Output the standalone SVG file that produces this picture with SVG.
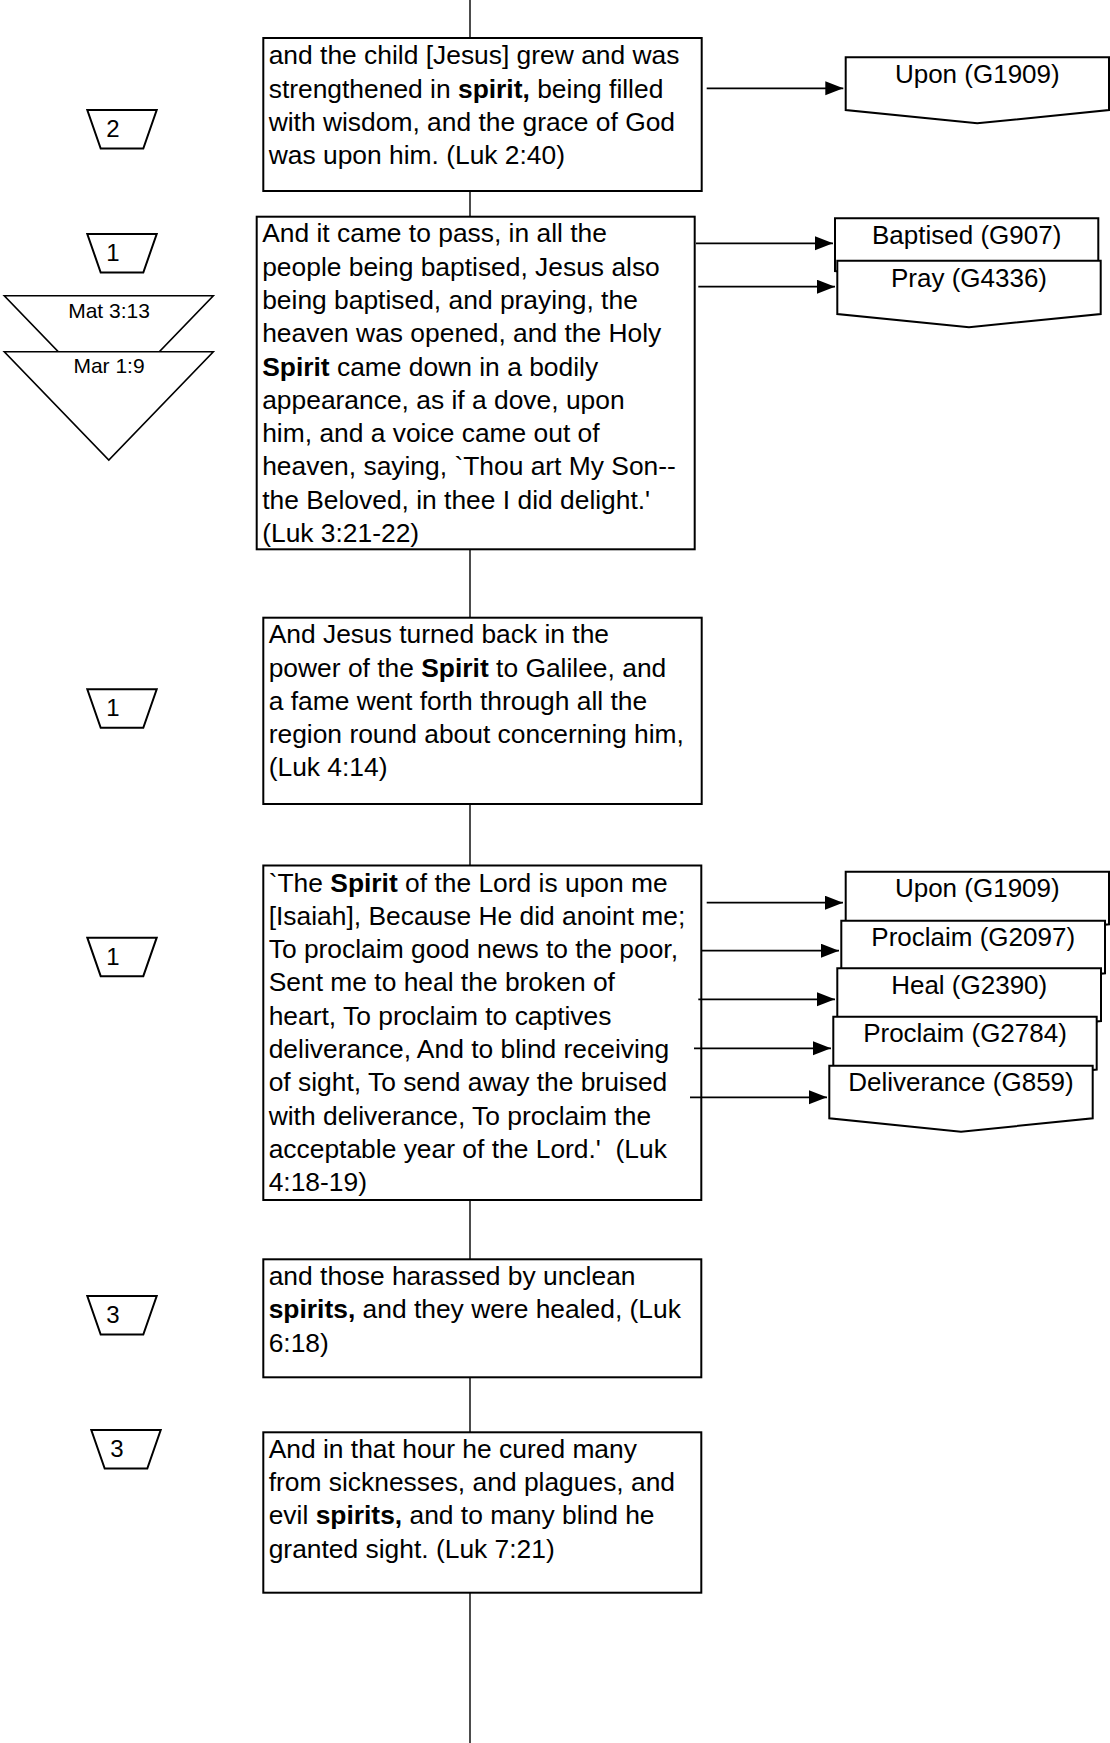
<svg xmlns="http://www.w3.org/2000/svg" width="1110" height="1743" viewBox="0 0 1110 1743">
<style>
.box{fill:#fff;stroke:#000;stroke-width:2}
.pent{fill:#fff;stroke:#000;stroke-width:2}
.badge{fill:#fff;stroke:#000;stroke-width:2}
.tri{fill:#fff;stroke:#000;stroke-width:1.6}
.t{font-family:"Liberation Sans",Arial,sans-serif;font-size:26.4px;fill:#000}
.lbl{font-family:"Liberation Sans",Arial,sans-serif;font-size:26px;fill:#000;text-anchor:middle}
.bt{font-family:"Liberation Sans",Arial,sans-serif;font-size:24px;fill:#000;text-anchor:middle}
.st{font-family:"Liberation Sans",Arial,sans-serif;font-size:21px;fill:#000;text-anchor:middle}
.b{font-weight:bold}
.flow{stroke:#000;stroke-width:1.4;fill:none}
.arr{stroke:#000;stroke-width:1.8;fill:none;marker-end:url(#ah)}
</style>
<defs>
<marker id="ah" markerUnits="userSpaceOnUse" markerWidth="19" markerHeight="15" refX="18" refY="7" orient="auto">
<path d="M0,0 L18,7 L0,14 z" fill="#000"/>
</marker>
</defs>
<rect width="1110" height="1743" fill="#fff"/>

<g id="spine">
<line class="flow" x1="470" y1="0" x2="470" y2="38"/>
<line class="flow" x1="470" y1="191" x2="470" y2="216.7"/>
<line class="flow" x1="470" y1="549.3" x2="470" y2="617.7"/>
<line class="flow" x1="470" y1="804" x2="470" y2="865.5"/>
<line class="flow" x1="470" y1="1200" x2="470" y2="1259.3"/>
<line class="flow" x1="470" y1="1377.3" x2="470" y2="1432.3"/>
<line class="flow" x1="470" y1="1592.7" x2="470" y2="1743"/>
</g>

<g id="node-luk2-40">
<rect class="box" x="263.3" y="38" width="438.4" height="153"/>
<text class="t"><tspan x="268.7" y="64.3">and the child [Jesus] grew and was</tspan><tspan x="268.7" y="97.6">strengthened in <tspan class="b">spirit,</tspan> being filled</tspan><tspan x="268.7" y="130.9">with wisdom, and the grace of God</tspan><tspan x="268.7" y="164.2">was upon him. (Luk 2:40)</tspan></text>
</g>

<g id="node-luk3-21">
<rect class="box" x="256.7" y="216.7" width="438" height="332.6"/>
<text class="t"><tspan x="262.2" y="242.3">And it came to pass, in all the</tspan><tspan x="262.2" y="275.6">people being baptised, Jesus also</tspan><tspan x="262.2" y="308.9">being baptised, and praying, the</tspan><tspan x="262.2" y="342.2">heaven was opened, and the Holy</tspan><tspan x="262.2" y="375.5"><tspan class="b">Spirit</tspan> came down in a bodily</tspan><tspan x="262.2" y="408.8">appearance, as if a dove, upon</tspan><tspan x="262.2" y="442.1">him, and a voice came out of</tspan><tspan x="262.2" y="475.4">heaven, saying, `Thou art My Son--</tspan><tspan x="262.2" y="508.7">the Beloved, in thee I did delight.'</tspan><tspan x="262.2" y="542">(Luk 3:21-22)</tspan></text>
</g>

<g id="node-luk4-14">
<rect class="box" x="263.3" y="617.7" width="438.4" height="186.3"/>
<text class="t"><tspan x="268.7" y="643.2">And Jesus turned back in the</tspan><tspan x="268.7" y="676.5">power of the <tspan class="b">Spirit</tspan> to Galilee, and</tspan><tspan x="268.7" y="709.8">a fame went forth through all the</tspan><tspan x="268.7" y="743.1">region round about concerning him,</tspan><tspan x="268.7" y="776.4">(Luk 4:14)</tspan></text>
</g>

<g id="node-luk4-18">
<rect class="box" x="263.3" y="865.5" width="438" height="334.5"/>
<text class="t"><tspan x="268.7" y="891.5">`The <tspan class="b">Spirit</tspan> of the Lord is upon me</tspan><tspan x="268.7" y="924.8">[Isaiah], Because He did anoint me;</tspan><tspan x="268.7" y="958.1">To proclaim good news to the poor,</tspan><tspan x="268.7" y="991.4">Sent me to heal the broken of</tspan><tspan x="268.7" y="1024.7">heart, To proclaim to captives</tspan><tspan x="268.7" y="1058">deliverance, And to blind receiving</tspan><tspan x="268.7" y="1091.3">of sight, To send away the bruised</tspan><tspan x="268.7" y="1124.6">with deliverance, To proclaim the</tspan><tspan x="268.7" y="1157.9">acceptable year of the Lord.'&#160; (Luk</tspan><tspan x="268.7" y="1191.2">4:18-19)</tspan></text>
</g>

<g id="node-luk6-18">
<rect class="box" x="263.3" y="1259.3" width="438" height="118"/>
<text class="t"><tspan x="268.7" y="1285">and those harassed by unclean</tspan><tspan x="268.7" y="1318.3"><tspan class="b">spirits,</tspan> and they were healed, (Luk</tspan><tspan x="268.7" y="1351.6">6:18)</tspan></text>
</g>

<g id="node-luk7-21">
<rect class="box" x="263.3" y="1432.3" width="438" height="160.4"/>
<text class="t"><tspan x="268.7" y="1457.8">And in that hour he cured many</tspan><tspan x="268.7" y="1491.1">from sicknesses, and plagues, and</tspan><tspan x="268.7" y="1524.4">evil <tspan class="b">spirits,</tspan> and to many blind he</tspan><tspan x="268.7" y="1557.7">granted sight. (Luk 7:21)</tspan></text>
</g>

<g id="badge-2">
<polygon class="badge" points="87.3,110 156.7,110 143.3,148.5 100.7,148.5"/>
<text class="bt" x="113" y="136.5">2</text>
</g>
<g id="badge-1a">
<polygon class="badge" points="87.3,234 156.7,234 143.3,272.5 100.7,272.5"/>
<text class="bt" x="113" y="261">1</text>
</g>
<g id="ref-mat3-13">
<polygon class="tri" points="4.3,295.7 213.3,295.7 108.8,404"/>
<text class="st" x="109" y="317.7">Mat 3:13</text>
</g>
<g id="ref-mar1-9">
<polygon class="tri" points="4.3,351.7 213.3,351.7 108.8,460"/>
<text class="st" x="109" y="373.3">Mar 1:9</text>
</g>
<g id="badge-1b">
<polygon class="badge" points="87.3,689.3 156.7,689.3 143.3,727.8 100.7,727.8"/>
<text class="bt" x="113" y="716.3">1</text>
</g>
<g id="badge-1c">
<polygon class="badge" points="87.3,937.7 156.7,937.7 143.3,976.2 100.7,976.2"/>
<text class="bt" x="113" y="964.7">1</text>
</g>
<g id="badge-3a">
<polygon class="badge" points="87.3,1296 156.7,1296 143.3,1334.5 100.7,1334.5"/>
<text class="bt" x="113" y="1323">3</text>
</g>
<g id="badge-3b">
<polygon class="badge" points="91.3,1430 160.7,1430 147.3,1468.5 104.7,1468.5"/>
<text class="bt" x="117" y="1457">3</text>
</g>

<g id="word-upon-1">
<polygon class="pent" points="845.7,57.3 1109,57.3 1109,110 977.3,123.3 845.7,110"/>
<text class="lbl" x="977.3" y="83">Upon (G1909)</text>
</g>
<g id="word-baptised">
<polygon class="pent" points="835,218.3 1098.3,218.3 1098.3,271 966.7,284.3 835,271"/>
<text class="lbl" x="966.7" y="243.5">Baptised (G907)</text>
</g>
<g id="word-pray">
<polygon class="pent" points="837.3,260.7 1100.7,260.7 1100.7,314 969,327.3 837.3,314"/>
<text class="lbl" x="969" y="286.5">Pray (G4336)</text>
</g>
<g id="word-upon-2">
<polygon class="pent" points="845.7,871.7 1109,871.7 1109,924.3 977.3,937.6 845.7,924.3"/>
<text class="lbl" x="977.3" y="897">Upon (G1909)</text>
</g>
<g id="word-proclaim-1">
<polygon class="pent" points="841.3,920.7 1105,920.7 1105,973.3 973.2,986.6 841.3,973.3"/>
<text class="lbl" x="973.2" y="945.5">Proclaim (G2097)</text>
</g>
<g id="word-heal">
<polygon class="pent" points="837.3,968.3 1101,968.3 1101,1021 969.2,1034.3 837.3,1021"/>
<text class="lbl" x="969.2" y="993.5">Heal (G2390)</text>
</g>
<g id="word-proclaim-2">
<polygon class="pent" points="833.3,1016.7 1096.7,1016.7 1096.7,1069.5 965,1082.8 833.3,1069.5"/>
<text class="lbl" x="965" y="1042">Proclaim (G2784)</text>
</g>
<g id="word-deliverance">
<polygon class="pent" points="829.3,1065.7 1092.7,1065.7 1092.7,1118.3 961,1131.7 829.3,1118.3"/>
<text class="lbl" x="961" y="1090.5">Deliverance (G859)</text>
</g>

<g id="connectors">
<line class="arr" x1="706.7" y1="88.3" x2="843.3" y2="88.3"/>
<line class="arr" x1="696" y1="243.3" x2="833" y2="243.3"/>
<line class="arr" x1="698.3" y1="286.7" x2="835" y2="286.7"/>
<line class="arr" x1="706.7" y1="902.7" x2="843" y2="902.7"/>
<line class="arr" x1="701.7" y1="950.7" x2="839" y2="950.7"/>
<line class="arr" x1="698.3" y1="999.3" x2="835" y2="999.3"/>
<line class="arr" x1="694" y1="1048.3" x2="831" y2="1048.3"/>
<line class="arr" x1="690" y1="1097.3" x2="827" y2="1097.3"/>
</g>
</svg>
